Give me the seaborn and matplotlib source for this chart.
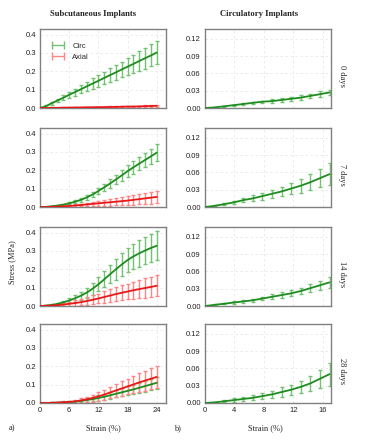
import numpy as np
import pandas as pd
import matplotlib
matplotlib.use("Agg")
import matplotlib.pyplot as plt
from matplotlib.lines import Line2D
import seaborn as sns

# --- data ---
days = ["0 days", "7 days", "14 days", "28 days"]

# subcutaneous implants (strain in %)
strain_sc = [0, 1.2, 2.4, 3.6, 4.8, 6.0, 7.2, 8.4, 9.6, 10.8, 12.0,
             13.2, 14.4, 15.6, 16.8, 18.0, 19.2, 20.4, 21.6, 22.8, 24.0]

sc_circ = [
    [0, 0.010, 0.026, 0.041, 0.056, 0.072, 0.087, 0.102, 0.118, 0.133, 0.148,
     0.164, 0.179, 0.194, 0.210, 0.225, 0.240, 0.256, 0.271, 0.286, 0.302],
    [0, 0.001, 0.004, 0.008, 0.013, 0.020, 0.029, 0.039, 0.052, 0.068, 0.087,
     0.107, 0.128, 0.150, 0.172, 0.195, 0.216, 0.236, 0.256, 0.276, 0.296],
    [0, 0.002, 0.006, 0.012, 0.020, 0.030, 0.042, 0.056, 0.073, 0.094, 0.118,
     0.145, 0.173, 0.200, 0.226, 0.250, 0.270, 0.287, 0.302, 0.316, 0.328],
    [0, 0.000, 0.001, 0.002, 0.003, 0.005, 0.007, 0.011, 0.016, 0.021, 0.027,
     0.034, 0.042, 0.050, 0.058, 0.066, 0.074, 0.083, 0.092, 0.101, 0.110],
]
sc_circ_sd = [
    [0, 0.004, 0.007, 0.010, 0.013, 0.016, 0.019, 0.022, 0.025, 0.028, 0.031,
     0.034, 0.037, 0.040, 0.043, 0.046, 0.049, 0.052, 0.056, 0.060, 0.064],
    [0, 0.001, 0.002, 0.003, 0.005, 0.006, 0.008, 0.010, 0.012, 0.014, 0.017,
     0.019, 0.022, 0.025, 0.028, 0.031, 0.034, 0.037, 0.040, 0.042, 0.045],
    [0, 0.002, 0.004, 0.007, 0.010, 0.014, 0.018, 0.022, 0.027, 0.032, 0.038,
     0.044, 0.050, 0.056, 0.061, 0.066, 0.070, 0.073, 0.075, 0.077, 0.078],
    [0, 0.001, 0.002, 0.003, 0.004, 0.005, 0.006, 0.008, 0.010, 0.012, 0.014,
     0.016, 0.018, 0.020, 0.022, 0.024, 0.026, 0.028, 0.030, 0.032, 0.034],
]
sc_axial = [
    [0, 0.000, 0.001, 0.001, 0.002, 0.002, 0.003, 0.003, 0.004, 0.004, 0.005,
     0.005, 0.006, 0.006, 0.007, 0.008, 0.008, 0.009, 0.010, 0.011, 0.012],
    [0, 0.000, 0.001, 0.002, 0.004, 0.006, 0.008, 0.011, 0.014, 0.017, 0.020,
     0.023, 0.026, 0.029, 0.032, 0.035, 0.039, 0.043, 0.047, 0.051, 0.055],
    [0, 0.001, 0.003, 0.005, 0.008, 0.012, 0.016, 0.021, 0.027, 0.034, 0.041,
     0.049, 0.057, 0.065, 0.072, 0.079, 0.086, 0.092, 0.098, 0.104, 0.110],
    [0, 0.000, 0.001, 0.002, 0.004, 0.006, 0.009, 0.014, 0.020, 0.027, 0.036,
     0.046, 0.057, 0.068, 0.079, 0.090, 0.101, 0.112, 0.122, 0.132, 0.142],
]
sc_axial_sd = [
    [0, 0.001, 0.001, 0.001, 0.001, 0.002, 0.002, 0.002, 0.002, 0.002, 0.003,
     0.003, 0.003, 0.003, 0.003, 0.004, 0.004, 0.004, 0.004, 0.004, 0.005],
    [0, 0.001, 0.002, 0.003, 0.004, 0.005, 0.006, 0.008, 0.010, 0.012, 0.014,
     0.016, 0.018, 0.020, 0.022, 0.024, 0.026, 0.028, 0.030, 0.032, 0.034],
    [0, 0.002, 0.004, 0.006, 0.009, 0.012, 0.015, 0.018, 0.021, 0.024, 0.027,
     0.031, 0.034, 0.037, 0.040, 0.043, 0.046, 0.049, 0.052, 0.055, 0.058],
    [0, 0.001, 0.002, 0.003, 0.005, 0.007, 0.009, 0.012, 0.015, 0.019, 0.023,
     0.027, 0.031, 0.035, 0.039, 0.043, 0.047, 0.051, 0.054, 0.057, 0.060],
]

# circulatory implants
strain_ci = [0, 1.3, 2.6, 3.9, 5.2, 6.5, 7.8, 9.1, 10.4, 11.7, 13.0, 14.3, 15.6, 16.9]
ci_circ = [
    [0, 0.001, 0.003, 0.005, 0.007, 0.009, 0.011, 0.012, 0.014, 0.016, 0.018, 0.021, 0.024, 0.027],
    [0, 0.002, 0.005, 0.008, 0.012, 0.015, 0.019, 0.023, 0.027, 0.032, 0.037, 0.043, 0.050, 0.057],
    [0, 0.002, 0.004, 0.006, 0.008, 0.010, 0.013, 0.016, 0.019, 0.022, 0.026, 0.031, 0.036, 0.041],
    [0, 0.001, 0.003, 0.005, 0.007, 0.009, 0.012, 0.015, 0.019, 0.023, 0.028, 0.034, 0.042, 0.050],
]
ci_circ_sd = [
    [0, 0.001, 0.001, 0.001, 0.002, 0.002, 0.002, 0.003, 0.003, 0.003, 0.004, 0.004, 0.005, 0.005],
    [0, 0.001, 0.002, 0.003, 0.004, 0.005, 0.006, 0.007, 0.008, 0.010, 0.012, 0.014, 0.016, 0.019],
    [0, 0.001, 0.001, 0.002, 0.002, 0.003, 0.003, 0.004, 0.005, 0.005, 0.006, 0.007, 0.008, 0.010],
    [0, 0.001, 0.002, 0.003, 0.003, 0.004, 0.005, 0.006, 0.008, 0.009, 0.011, 0.013, 0.016, 0.020],
]

sc_xticks = [0, 6, 12, 18, 24]
sc_yticks = [0.0, 0.1, 0.2, 0.3, 0.4]
ci_xticks = [0, 4, 8, 12, 16]
ci_yticks = [0.00, 0.03, 0.06, 0.09, 0.12]

GREEN, GREEN_BAR = "#1e8c1e", "#72c272"
RED, RED_BAR = "#e81818", "#ff8585"

sns.set_theme(style="white")
plt.rcParams["font.family"] = ["Liberation Sans", "DejaVu Sans"]
SERIF = ["Liberation Serif", "DejaVu Serif"]


def panel(ax, x, series):
    """series : list of (mean, sd, line color, bar color)"""
    for mean, sd, lc, bc in series:
        ax.errorbar(x, mean, yerr=sd, fmt="none", ecolor=bc, elinewidth=1.0,
                    capsize=1.6, capthick=1.0, zorder=2)
    for mean, sd, lc, bc in series:
        df = pd.DataFrame({"strain": x, "stress": mean})
        sns.lineplot(data=df, x="strain", y="stress", color=lc, linewidth=1.3,
                     errorbar=None, ax=ax, zorder=3)
    ax.set_xlabel(""); ax.set_ylabel("")
    ax.grid(True, color="#e8e8e8", linestyle=(0, (3, 3)), linewidth=0.6)
    for s in ax.spines.values():
        s.set_color("#808080"); s.set_linewidth(1.0)
    ax.tick_params(length=0, labelsize=5.5, pad=3, colors="#222222")


fig = plt.figure(figsize=(3.8, 4.4), dpi=100)
bottoms = [0.7545, 0.5295, 0.3045, 0.0841]
h = 79 / 440

for i, d in enumerate(days):
    axl = fig.add_axes([40 / 380, bottoms[i], 126 / 380, h])
    panel(axl, strain_sc, [(sc_circ[i], sc_circ_sd[i], GREEN, GREEN_BAR),
                           (sc_axial[i], sc_axial_sd[i], RED, RED_BAR)])
    axl.set_xlim(0, 25.9); axl.set_ylim(0, 0.43)
    axl.set_xticks(sc_xticks); axl.set_yticks(sc_yticks)
    axl.set_yticklabels([f"{v:.1f}" for v in sc_yticks])

    axr = fig.add_axes([205 / 380, bottoms[i], 126 / 380, h])
    panel(axr, strain_ci, [(ci_circ[i], ci_circ_sd[i], GREEN, GREEN_BAR)])
    axr.set_xlim(0, 17.1); axr.set_ylim(0, 0.137)
    axr.set_xticks(ci_xticks); axr.set_yticks(ci_yticks)
    axr.set_yticklabels([f"{v:.2f}" for v in ci_yticks])

    if i < 3:
        axl.tick_params(labelbottom=False)
        axr.tick_params(labelbottom=False)

    # row label, slightly below the panel's middle
    y_pix = 440 * (1 - bottoms[i] - h) + 47
    fig.text(342 / 380, 1 - y_pix / 440, d, rotation=270,
             ha="center", va="center", fontsize=6, family=SERIF)

    if i == 0:
        handles = [Line2D([0], [0], color=GREEN_BAR, marker="|", markersize=6, lw=1.0),
                   Line2D([0], [0], color=RED_BAR, marker="|", markersize=6, lw=1.0)]
        axl.legend(handles, ["Circ", "Axial"], loc="upper left", numpoints=2,
                   frameon=False, fontsize=5.5, handlelength=2.2,
                   bbox_to_anchor=(0.02, 0.92), labelspacing=0.5)

fig.text(93 / 380, 1 - 14 / 440, "Subcutaneous Implants", ha="center", va="center",
         fontsize=6.2, fontweight="bold", family=SERIF)
fig.text(259 / 380, 1 - 14 / 440, "Circulatory Implants", ha="center", va="center",
         fontsize=6.2, fontweight="bold", family=SERIF)
fig.text(12 / 380, 1 - 262 / 440, "Stress (MPa)", rotation=90, ha="center", va="center",
         fontsize=6, family=SERIF)
fig.text(103 / 380, 1 - 428 / 440, "Strain (%)", ha="center", va="center",
         fontsize=6, family=SERIF)
fig.text(265 / 380, 1 - 428 / 440, "Strain (%)", ha="center", va="center",
         fontsize=6, family=SERIF)
fig.text(12 / 380, 1 - 428 / 440, "a)", ha="center", va="center", fontsize=6, family=SERIF)
fig.text(178 / 380, 1 - 428 / 440, "b)", ha="center", va="center", fontsize=6, family=SERIF)

fig.savefig("out.png", dpi=100)
